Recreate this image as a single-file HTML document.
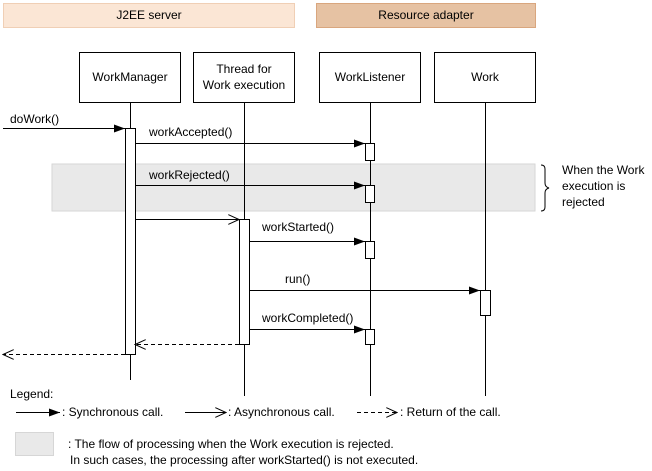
<!DOCTYPE html>
<html><head><style>body{margin:0;background:#fff}svg{display:block}text{font-family:"Liberation Sans",Arial,sans-serif;font-size:12px;fill:#000}</style></head><body>
<svg width="652" height="471" viewBox="0 0 652 471" xmlns="http://www.w3.org/2000/svg">
<defs>
<marker id="f" markerWidth="12" markerHeight="8" refX="11" refY="4" orient="auto" markerUnits="userSpaceOnUse"><path d="M0,0 L11,4 L0,8 Z" fill="#000"/></marker>
<marker id="o" markerWidth="12" markerHeight="10" refX="11" refY="5" orient="auto" markerUnits="userSpaceOnUse"><path d="M0,0 L11,5 L0,10" fill="none" stroke="#000"/></marker>
</defs>
<rect x="3.5" y="3.5" width="291" height="24" fill="#fbe6d5" stroke="#f0cfb5"/>
<text x="149" y="19" text-anchor="middle">J2EE server</text>
<rect x="316.5" y="3.5" width="219" height="24" fill="#e6c2a3" stroke="#d9a67e"/>
<text x="426" y="19" text-anchor="middle">Resource adapter</text>
<rect x="52" y="164" width="483" height="47" fill="#e9e9e9" stroke="#d6d6d6"/>
<g stroke="#000" fill="#fff">
<rect x="79.5" y="52.5" width="101" height="50"/>
<rect x="193.5" y="52.5" width="101" height="50"/>
<rect x="319.5" y="52.5" width="101" height="50"/>
<rect x="434.5" y="52.5" width="101" height="50"/>
<line x1="130.5" y1="103" x2="130.5" y2="380"/>
<line x1="244.5" y1="103" x2="244.5" y2="396"/>
<line x1="370.5" y1="103" x2="370.5" y2="396"/>
<line x1="485.5" y1="103" x2="485.5" y2="396"/>
<rect x="125.5" y="128.5" width="10" height="226"/>
<rect x="239.5" y="219.5" width="10" height="125"/>
<rect x="365.5" y="143.5" width="9" height="17"/>
<rect x="365.5" y="185.5" width="9" height="17"/>
<rect x="365.5" y="241.5" width="9" height="17"/>
<rect x="365.5" y="329.5" width="9" height="15"/>
<rect x="480.5" y="290.5" width="10" height="25"/>
</g>
<text x="130" y="81" text-anchor="middle">WorkManager</text>
<text x="244" y="73" text-anchor="middle">Thread for</text>
<text x="244" y="89" text-anchor="middle">Work execution</text>
<text x="370" y="81" text-anchor="middle">WorkListener</text>
<text x="485" y="81" text-anchor="middle">Work</text>
<g stroke="#000" fill="none">
<line x1="3" y1="128.5" x2="125" y2="128.5" marker-end="url(#f)"/>
<line x1="135" y1="143.5" x2="365" y2="143.5" marker-end="url(#f)"/>
<line x1="135" y1="185.5" x2="365" y2="185.5" marker-end="url(#f)"/>
<line x1="135" y1="219.5" x2="239" y2="219.5" marker-end="url(#o)"/>
<line x1="249" y1="241.5" x2="365" y2="241.5" marker-end="url(#f)"/>
<line x1="249" y1="290.5" x2="480" y2="290.5" marker-end="url(#f)"/>
<line x1="249" y1="329.5" x2="365" y2="329.5" marker-end="url(#f)"/>
<line x1="239" y1="344.5" x2="135" y2="344.5" stroke-dasharray="4,3" marker-end="url(#o)"/>
<line x1="125" y1="354.5" x2="3" y2="354.5" stroke-dasharray="4,3" marker-end="url(#o)"/>
<path d="M541,165 q4,0 4,4 v14 q0,4 4,5 q-4,1 -4,5 v14 q0,4 -4,4"/>
</g>
<text x="10" y="123">doWork()</text>
<text x="149" y="136">workAccepted()</text>
<text x="149" y="179">workRejected()</text>
<text x="262" y="231">workStarted()</text>
<text x="285" y="283">run()</text>
<text x="262" y="322">workCompleted()</text>
<text x="562" y="174">When the Work</text>
<text x="562" y="190">execution is</text>
<text x="562" y="206">rejected</text>
<text x="10" y="398">Legend:</text>
<g stroke="#000" fill="none">
<line x1="16" y1="412.5" x2="60" y2="412.5" marker-end="url(#f)"/>
<line x1="185" y1="412.5" x2="226" y2="412.5" marker-end="url(#o)"/>
<line x1="357" y1="412.5" x2="397" y2="412.5" stroke-dasharray="4,3" marker-end="url(#o)"/>
</g>
<text x="62" y="416">: Synchronous call.</text>
<text x="228" y="416">: Asynchronous call.</text>
<text x="400" y="416">: Return of the call.</text>
<rect x="15.5" y="432.5" width="38" height="23" fill="#e9e9e9" stroke="#d6d6d6"/>
<text x="68" y="448">: The flow of processing when the Work execution is rejected.</text>
<text x="70" y="464">In such cases, the processing after workStarted() is not executed.</text>
</svg>
</body></html>
